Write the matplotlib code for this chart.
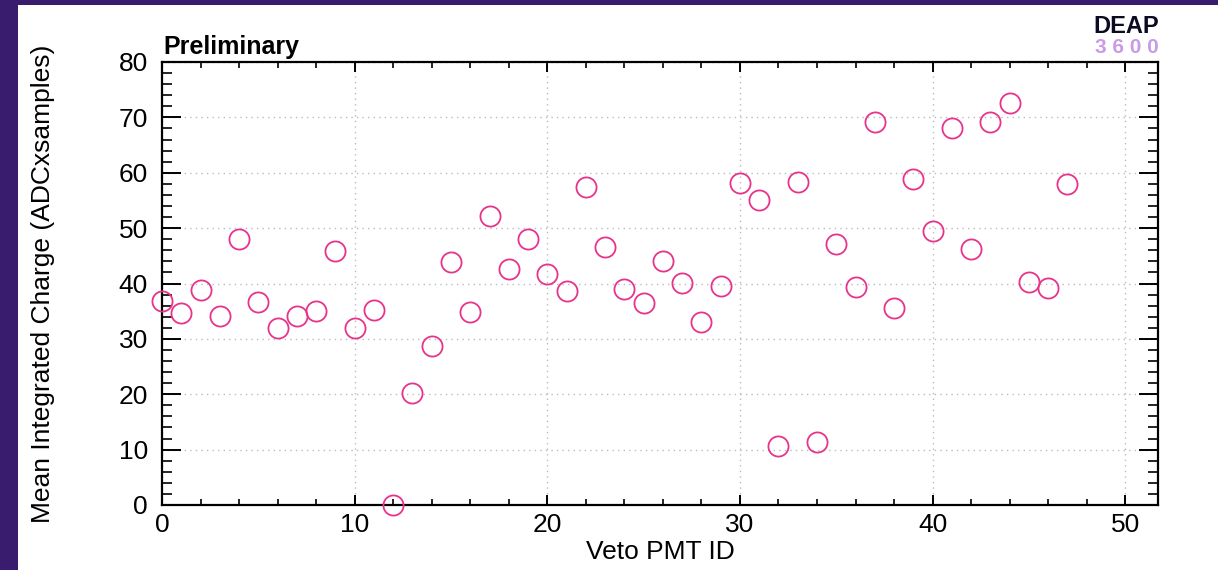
import matplotlib
matplotlib.use('Agg')
import matplotlib.pyplot as plt
from matplotlib.patches import Rectangle
from matplotlib.ticker import MultipleLocator

plt.rcParams['font.family'] = ['Liberation Sans', 'DejaVu Sans']

# --- データ ---
pmt_id = list(range(48))
mean_charge = [36.8, 34.7, 38.8, 34.1, 48.1, 36.6, 31.9, 34.2, 35.0, 45.9,
               32.0, 35.3, 0.0, 20.2, 28.7, 43.9, 34.9, 52.1, 42.7, 48.0,
               41.8, 38.6, 57.5, 46.6, 39.0, 36.4, 44.0, 40.1, 33.0, 39.5,
               58.1, 55.0, 10.7, 58.3, 11.3, 47.2, 39.3, 69.2, 35.6, 58.8,
               49.5, 68.1, 46.2, 69.1, 72.6, 40.3, 39.1, 57.9]

W, H = 1218, 570
fig = plt.figure(figsize=(W / 100, H / 100), dpi=100)
fig.patch.set_facecolor('#3a1c6e')
# 白い領域 (スライド背景の上)
fig.patches.append(Rectangle((18 / W, 0), 1 - 18 / W, 1 - 5 / H,
                             transform=fig.transFigure, facecolor='white',
                             edgecolor='none', zorder=-10))

ax = fig.add_axes([162 / W, 1 - 505 / H, (1158 - 162) / W, (505 - 62) / H])
ax.set_zorder(5)
ax.set_facecolor('white')

ax.plot(pmt_id, mean_charge, linestyle='none', marker='o', markersize=14.5,
        markerfacecolor='none', markeredgecolor='#e8338a', markeredgewidth=1.3,
        clip_on=False, zorder=3)

ax.set_xlim(0, 51.7)
ax.set_ylim(0, 80)
ax.xaxis.set_major_locator(MultipleLocator(10))
ax.xaxis.set_minor_locator(MultipleLocator(2))
ax.yaxis.set_major_locator(MultipleLocator(10))
ax.yaxis.set_minor_locator(MultipleLocator(2))

ax.tick_params(axis='x', which='major', direction='in', top=True, length=7, width=1.4,
               labelsize=19, pad=6)
ax.tick_params(axis='x', which='minor', direction='in', top=True, length=4, width=1.2)
ax.tick_params(axis='y', which='major', direction='in', right=True, length=14, width=1.4,
               labelsize=19, pad=10)
ax.tick_params(axis='y', which='minor', direction='in', right=True, length=7, width=1.2)

for s in ax.spines.values():
    s.set_linewidth(1.6)

ax.grid(True, which='major', linestyle=(0, (1, 3)), color='#bbbbbb', linewidth=1.0)
ax.set_axisbelow(True)

ax.set_xlabel('Veto PMT ID', fontsize=19, labelpad=2)
ax.set_ylabel('Mean Integrated Charge (ADCxsamples)', fontsize=19)
ax.yaxis.set_label_coords(-0.107, 0.5)

fig.text(163 / W, 1 - 54 / H, 'Preliminary', fontsize=18, fontweight='bold',
         ha='left', va='baseline', zorder=6)
fig.text(1159 / W, 1 - 33 / H, 'DEAP', fontsize=17, fontweight='bold',
         color='#0b0b22', ha='right', va='baseline', zorder=6)
fig.text(1159 / W, 1 - 53 / H, '3 6 0 0', fontsize=15, fontweight='bold',
         color='#c89be8', ha='right', va='baseline', zorder=6)

plt.savefig('out.png', dpi=100, facecolor=fig.get_facecolor())
